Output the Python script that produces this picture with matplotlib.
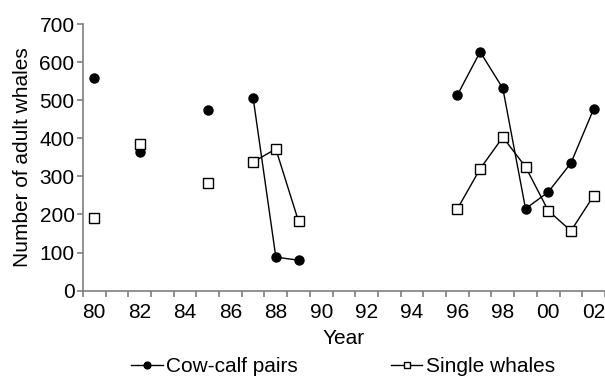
import matplotlib.pyplot as plt
import numpy as np

plt.rcParams['font.family'] = ['Liberation Sans', 'DejaVu Sans']

years = ['80', '81', '82', '83', '84', '85', '86', '87', '88', '89', '90', '91',
         '92', '93', '94', '95', '96', '97', '98', '99', '00', '01', '02']
nan = np.nan
cow_calf = [559, nan, 363, nan, nan, 474, nan, 506, 88, 80, nan, nan,
            nan, nan, nan, nan, 514, 627, 531, 215, 259, 335, 477]
single = [190, nan, 386, nan, nan, 283, nan, 338, 372, 182, nan, nan,
          nan, nan, nan, nan, 215, 320, 403, 325, 210, 157, 249]

x = np.arange(len(years))

fig = plt.figure(figsize=(6.05, 3.76), dpi=100)
ax = fig.add_axes([0.137, 0.227, 0.863, 0.709])

ax.plot(x, cow_calf, '-o', color='black', lw=1, ms=6.5, label='Cow-calf pairs')
ax.plot(x, single, '-s', color='black', lw=1, ms=6.5, mfc='white', mew=1,
        label='Single whales')

ax.set_xlim(-0.5, len(years) - 0.5)
ax.set_ylim(0, 700)
ax.set_yticks(range(0, 701, 100))
ax.set_xticks(x[::2])
ax.set_xticklabels(years[::2])
ax.set_xticks(np.arange(-0.5, len(years), 1), minor=True)

for s in ['top', 'right']:
    ax.spines[s].set_visible(False)
for s in ['left', 'bottom']:
    ax.spines[s].set_color('#7f7f7f')
    ax.spines[s].set_linewidth(1.2)

fs = 15
ax.tick_params(axis='y', labelsize=fs, color='#7f7f7f', length=4, width=1.2, pad=2)
ax.tick_params(axis='x', which='major', labelsize=fs, length=0, pad=9)
ax.tick_params(axis='x', which='minor', color='#7f7f7f', length=4, width=1.2)

ax.set_xlabel('Year', fontsize=fs, labelpad=5)
ax.set_ylabel('Number of adult whales', fontsize=fs, labelpad=5)

fig.legend(loc='lower center', bbox_to_anchor=(0.567, 0.0), ncol=2,
           frameon=False, fontsize=fs, handlelength=1.5, handletextpad=0.15,
           columnspacing=4.5, borderaxespad=0, borderpad=0, markerscale=0.75)

plt.savefig('out.png', dpi=100)
